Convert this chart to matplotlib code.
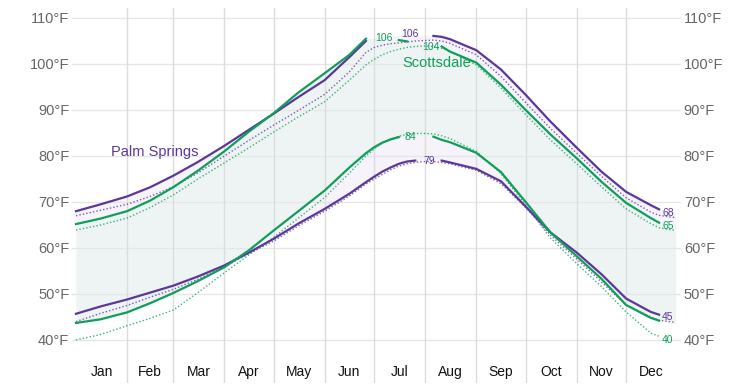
import numpy as np
import matplotlib.pyplot as plt

# day of year for each reading
days = [0, 15, 31, 45, 59, 74, 90, 105, 120, 135, 151, 166, 176, 181, 186, 191, 196,
        201, 206, 212, 217, 222, 227, 243, 258, 273, 288, 304, 319, 334, 349, 354, 364]

# Palm Springs (solid = avg, dotted = second series)
ps_high = [68.0, 69.5, 71.2, 73.2, 75.7, 78.7, 82.2, 85.7, 89.2, 92.8, 96.5, 101.5, 105.0, 105.5,
           105.9, 106.1, 106.2, 106.3, 106.3, 106.2, 106.1, 105.9, 105.4, 103.0, 98.8, 93.3, 87.5,
           81.8, 76.6, 72.2, 69.3, 68.4, 67.8]
ps_low = [45.7, 47.3, 48.8, 50.3, 51.8, 53.8, 56.2, 59.0, 62.0, 65.3, 68.5, 71.8, 74.3, 75.5,
          76.6, 77.5, 78.3, 78.8, 79.0, 79.1, 79.1, 79.0, 78.6, 77.2, 74.5, 69.0, 63.4, 59.0,
          54.3, 49.0, 46.1, 45.5, 45.2]
ps_dot_high = [67.0, 68.2, 69.5, 71.2, 73.3, 76.3, 80.0, 83.4, 86.7, 89.9, 93.4, 98.3, 102.5, 103.6,
               104.1, 104.4, 104.6, 104.8, 105.0, 105.1, 105.2, 105.0, 104.5, 102.0, 97.3, 91.6,
               86.0, 80.6, 75.6, 70.9, 67.8, 67.1, 66.6]
ps_dot_low = [44.0, 45.8, 47.5, 49.3, 51.0, 53.2, 55.9, 58.8, 61.5, 64.8, 68.0, 71.3, 73.9, 75.0,
              76.0, 77.0, 77.8, 78.3, 78.6, 78.8, 78.8, 78.6, 78.3, 76.9, 74.0, 68.8, 62.8, 57.6,
              52.6, 47.6, 45.0, 44.3, 43.8]

# Scottsdale
sc_high = [65.2, 66.4, 68.0, 70.3, 73.2, 76.8, 81.0, 85.3, 89.3, 93.8, 98.0, 102.0, 105.5, 105.6,
           105.6, 105.5, 105.2, 104.9, 104.6, 104.3, 104.1, 103.8, 102.7, 100.3, 95.5, 90.0, 84.7,
           79.5, 74.4, 69.8, 66.5, 65.5, 64.8]
sc_low = [43.7, 44.5, 46.0, 48.0, 50.2, 52.8, 55.8, 59.5, 63.8, 68.0, 72.5, 77.5, 80.6, 81.9,
          82.9, 83.6, 84.1, 84.3, 84.4, 84.4, 84.2, 83.5, 83.0, 80.7, 76.5, 70.0, 63.4, 58.2,
          53.3, 47.6, 44.8, 44.2, 43.7]
sc_dot_high = [63.9, 65.0, 66.5, 68.8, 71.5, 75.0, 78.5, 81.8, 85.2, 88.5, 91.8, 96.5, 99.8, 101.0,
               102.0, 102.7, 103.2, 103.6, 103.8, 103.9, 103.8, 103.4, 102.8, 99.8, 94.8, 89.0,
               83.5, 78.3, 73.3, 68.5, 65.3, 64.4, 63.8]
sc_dot_low = [40.0, 41.2, 43.1, 44.7, 46.5, 50.3, 54.6, 58.5, 62.3, 66.5, 71.0, 76.3, 80.0, 81.5,
              82.8, 83.7, 84.3, 84.7, 84.9, 84.9, 84.8, 84.4, 83.8, 81.0, 76.2, 69.3, 62.2, 56.6,
              51.6, 46.1, 41.5, 40.8, 40.3]

months = ['Jan', 'Feb', 'Mar', 'Apr', 'May', 'Jun', 'Jul', 'Aug', 'Sep', 'Oct', 'Nov', 'Dec']
month_starts = [0, 31, 59, 90, 120, 151, 181, 212, 243, 273, 304, 334, 365]
temp_ticks = [40, 50, 60, 70, 80, 90, 100, 110]

PURPLE = '#5b3799'
GREEN = '#0f9f5a'

plt.rcParams['font.family'] = ['Liberation Sans', 'DejaVu Sans']

fig = plt.figure(figsize=(7.53, 3.87), dpi=100)
ax = fig.add_axes([72 / 753, 4 / 387, 609 / 753, 375 / 387])
ax.set_xlim(-2.43, 367.3)
ax.set_ylim(30.65, 112.17)
for s in ax.spines.values():
    s.set_visible(False)

d = np.array(days)

# bands
ax.fill_between(d, ps_high, ps_low, color='#f6f3fa', lw=0, zorder=0.5)
ax.fill_between(d, sc_high, sc_low, color='#eef4f4', lw=0, zorder=0.6)

# grid
for t in temp_ticks:
    ax.axhline(t, color='#e6e6e6', lw=1, zorder=1)
for m in month_starts[1:-1]:
    ax.axvline(m, color='#dcdcdc', lw=1, zorder=1)


def gapped(vals, gaps):
    v = np.array(vals, dtype=float)
    for a, b in gaps:
        v[(d > a) & (d < b)] = np.nan
    return v


end = (355, 370)
ax.plot(d, ps_dot_high, color=PURPLE, lw=1, ls=(0, (1, 1.5)), alpha=0.8, zorder=2)
ax.plot(d, ps_dot_low, color=PURPLE, lw=1, ls=(0, (1, 1.5)), alpha=0.8, zorder=2)
ax.plot(d, sc_dot_high, color=GREEN, lw=1, ls=(0, (1, 1.5)), alpha=0.8, zorder=2)
ax.plot(d, gapped(sc_dot_low, [end]), color=GREEN, lw=1, ls=(0, (1, 1.5)), alpha=0.8, zorder=2)

ax.plot(d, gapped(ps_high, [(177, 216), end]), color=PURPLE, lw=1.6, zorder=3)
ax.plot(d, gapped(ps_low, [(209, 221), end]), color=PURPLE, lw=1.6, zorder=3)
ax.plot(d, gapped(sc_high, [(177, 192), (204, 220), end]), color=GREEN, lw=1.6, zorder=3)
ax.plot(d, gapped(sc_low, [(197, 214), end]), color=GREEN, lw=1.6, zorder=3)

# value labels
labels = [('106', 187, 105.65, GREEN), ('106', 203, 106.5, PURPLE), ('104', 215.5, 103.6, GREEN),
          ('79', 214.5, 79.0, PURPLE), ('84', 203, 84.1, GREEN),
          ('68', 359.4, 67.6, PURPLE), ('65', 359.4, 64.8, GREEN),
          ('45', 359.4, 45.1, PURPLE), ('40', 359.4, 40.0, GREEN)]
for txt, x, y, c in labels:
    ax.text(x, y, txt, color=c, fontsize=7.5, ha='center', va='center', zorder=4)

ax.text(48, 80.9, 'Palm Springs', color=PURPLE, fontsize=10.5, ha='center', va='center', zorder=4)
ax.text(219, 100.2, 'Scottsdale', color=GREEN, fontsize=10.5, ha='center', va='center', zorder=4)

# axes labels
ax.set_yticks(temp_ticks)
ax.set_yticklabels([f'{t}°F' for t in temp_ticks])
ax.tick_params(axis='y', length=0, pad=2, labelsize=10.5, labelcolor='#666666',
               labelleft=True, labelright=True)
ax.set_xticks([])
for i, m in enumerate(months):
    mid = (month_starts[i] + month_starts[i + 1]) / 2
    ax.text(mid, 33.0, m, color='#111111', fontsize=10, ha='center', va='center')

fig.savefig('out.png', dpi=100)
